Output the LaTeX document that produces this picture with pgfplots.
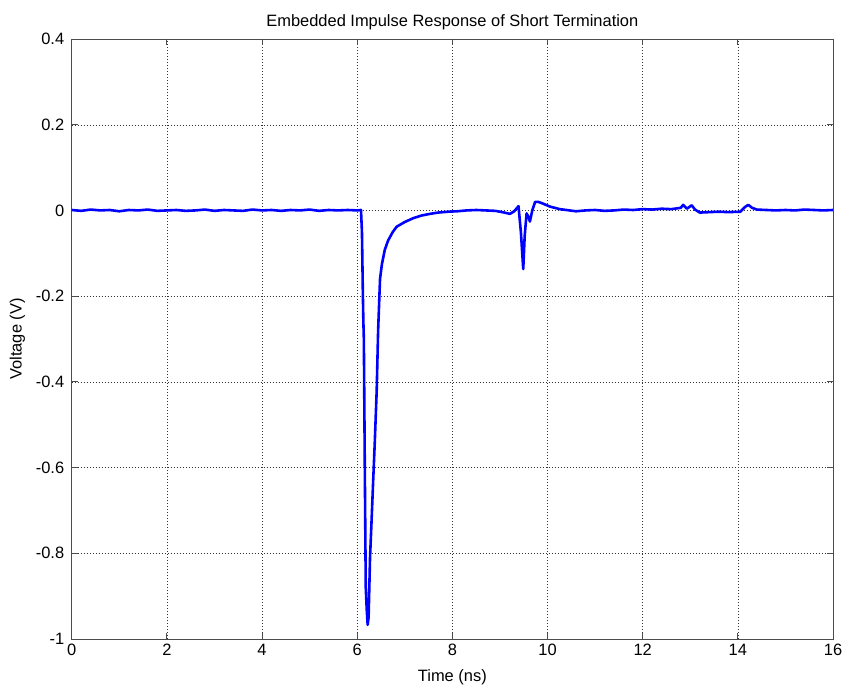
\documentclass[border=0pt]{standalone}
\usepackage{fontspec}
\setmainfont{Liberation Sans}
\usepackage{pgfplots}
\pgfplotsset{compat=1.18}
\begin{document}
\begin{tikzpicture}[x=1bp,y=1bp]
\path[use as bounding box] (-71.7bp,-48bp) rectangle (775.3bp,639bp);
\begin{axis}[
  at={(0,0)}, anchor=south west,
  scale only axis, width=761.3bp, height=600bp,
  xmin=0, xmax=16, ymin=-1, ymax=0.4,
  xtick={0,2,...,16}, ytick={-1,-0.8,...,0.4},
  yticklabels={-1,-0.8,-0.6,-0.4,-0.2,0,0.2,0.4},
  /pgf/number format/assume math mode=true,
  tick align=inside, tick pos=both,
  major tick length=6bp,
  axis line style={black!70, line width=0.8pt},
  every tick/.style={black!70, line width=0.8pt},
  grid=major,
  major grid style={black!80, line width=0.4pt, dash pattern=on 0.6bp off 2.4bp},
  tick label style={font=\fontsize{16.5}{19}\selectfont},
  label style={font=\fontsize{16.5}{19}\selectfont},
  title style={font=\fontsize{16.5}{19}\selectfont, yshift=0bp},
  title={Embedded Impulse Response of Short Termination},
  xlabel={Time (ns)}, ylabel={Voltage (V)},
  xlabel style={yshift=-7bp},
  ylabel style={yshift=4bp},
  xticklabel style={yshift=-2bp},
  yticklabel style={xshift=-4bp},
]
\addplot[blue, line width=2.6pt, line join=round] coordinates {
(0,0.001) (0.2,-0.001) (0.4,0.002) (0.6,0.000) (0.8,0.001) (1.0,-0.002)
(1.2,0.001) (1.4,0.000) (1.6,0.002) (1.8,-0.001) (2.0,0.000) (2.2,0.001)
(2.4,-0.001) (2.6,0.000) (2.8,0.002) (3.0,-0.001) (3.2,0.001) (3.4,0.000)
(3.6,-0.001) (3.8,0.002) (4.0,0.000) (4.2,0.001) (4.4,-0.001) (4.6,0.001)
(4.8,0.000) (5.0,0.002) (5.2,-0.001) (5.4,0.001) (5.6,0.000) (5.8,0.001)
(6.0,0.000) (6.08,0.001) (6.1,-0.05) (6.12,-0.2) (6.13,-0.26) (6.14,-0.3)
(6.16,-0.6) (6.18,-0.88) (6.2,-0.93) (6.22,-0.967) (6.24,-0.95)
(6.27,-0.81) (6.30,-0.73) (6.34,-0.62) (6.37,-0.54) (6.41,-0.42)
(6.44,-0.28) (6.48,-0.16) (6.52,-0.125) (6.58,-0.092) (6.65,-0.07) (6.75,-0.05)
(6.83,-0.038) (7.0,-0.027) (7.18,-0.018) (7.35,-0.012) (7.53,-0.008) (7.7,-0.005)
(7.91,-0.003) (8.1,-0.002) (8.3,0.000) (8.5,0.001) (8.7,0.000) (8.9,-0.001)
(9.05,-0.004) (9.21,-0.008) (9.3,-0.002) (9.39,0.01) (9.44,-0.05) (9.49,-0.137)
(9.52,-0.06) (9.56,-0.007) (9.6,-0.015) (9.63,-0.026) (9.68,0.0) (9.74,0.02)
(9.8,0.02) (9.88,0.017) (10.05,0.009) (10.26,0.003) (10.6,-0.002) (10.8,0.000)
(11.0,0.001) (11.2,-0.001) (11.4,0.000) (11.6,0.002) (11.8,0.001) (12.0,0.003)
(12.2,0.002) (12.4,0.004) (12.6,0.003) (12.8,0.006) (12.85,0.013) (12.93,0.004)
(13.03,0.012) (13.1,0.002) (13.2,-0.005) (13.4,-0.004) (13.6,-0.003) (13.8,-0.004)
(14.05,-0.003) (14.15,0.008) (14.22,0.013) (14.3,0.006) (14.4,0.002) (14.6,0.001)
(14.8,0.000) (15.0,0.001) (15.2,0.000) (15.4,0.002) (15.6,0.001) (15.8,0.000)
(16.0,0.001)
};
\end{axis}
\end{tikzpicture}
\end{document}
